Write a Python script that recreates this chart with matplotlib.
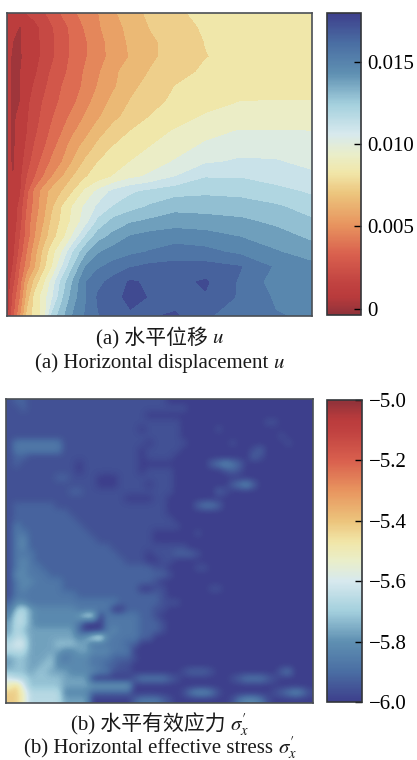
import matplotlib

matplotlib.use("Agg")
import matplotlib.pyplot as plt  # noqa: E402
import numpy as np  # noqa: E402
from matplotlib.cm import ScalarMappable  # noqa: E402
from matplotlib.colors import LinearSegmentedColormap, Normalize  # noqa: E402

plt.rcParams["font.family"] = ["Liberation Serif", "Noto Sans CJK SC"]
plt.rcParams["mathtext.fontset"] = "stix"
plt.rcParams["axes.unicode_minus"] = True

W, H = 417, 760

# colours, low end (blue) to high end (red)
cmap_stops = [
    (0.00, "#3d3f8c"), (0.10, "#4a6ea3"), (0.20, "#5f90b2"), (0.30, "#a3cfdd"),
    (0.40, "#d7e9ee"), (0.47, "#eaeec8"), (0.53, "#f1e6a8"), (0.60, "#ecc47c"),
    (0.70, "#e8955f"), (0.80, "#d9604e"), (0.90, "#c04140"), (0.94, "#b93b3c"),
    (1.00, "#8f323a"),
]

# (a) horizontal displacement, x 1e-3, read along the rows at these positions
disp_x = [7, 13, 20, 27, 35, 43, 52, 62, 73, 85, 98, 113, 130, 150, 175, 205, 240, 275, 312]
disp_y = [13, 27, 42, 57, 72, 87, 102, 117, 132, 147, 162, 177, 192, 207, 222, 237, 252, 267, 282, 297, 316]
disp_rows = [
    [1.0, 1.2, 1.2, 1.5, 1.8, 2.2, 2.8, 3.4, 4.0, 4.6, 5.1, 5.9, 6.5, 7.2, 7.8, 8.0, 8.1, 8.1, 8.1],
    [.8, .6, .5, .7, 1.2, 1.7, 2.3, 2.9, 3.6, 4.3, 5.0, 5.7, 6.3, 7.0, 7.5, 8.0, 8.1, 8.1, 8.1],
    [.7, .5, .5, .7, 1.2, 1.6, 2.2, 2.8, 3.5, 4.1, 4.8, 5.5, 6.2, 6.8, 7.3, 7.9, 8.1, 8.1, 8.1],
    [.7, .4, .45, .7, 1.2, 1.6, 2.2, 2.9, 3.5, 4.1, 4.8, 5.4, 6.1, 6.8, 7.3, 7.85, 8.1, 8.1, 8.1],
    [.7, .4, .5, .8, 1.3, 1.9, 2.5, 3.0, 3.7, 4.3, 5.0, 5.8, 6.5, 7.0, 7.6, 8.0, 8.15, 8.2, 8.2],
    [.7, .4, .52, 1.0, 1.6, 2.1, 2.8, 3.3, 3.8, 4.4, 5.2, 5.9, 6.7, 7.3, 7.9, 8.15, 8.3, 8.35, 8.4],
    [.7, .4, .52, 1.2, 1.9, 2.4, 2.9, 3.5, 4.0, 4.8, 5.5, 6.3, 7.0, 7.6, 8.05, 8.4, 8.8, 8.85, 8.85],
    [.7, .4, .7, 1.35, 2.0, 2.6, 3.2, 3.8, 4.5, 5.2, 5.9, 6.7, 7.3, 7.9, 8.4, 8.9, 9.1, 9.1, 9.0],
    [.7, .4, .8, 1.44, 2.2, 2.8, 3.5, 4.2, 5.0, 5.7, 6.6, 7.3, 7.9, 8.4, 8.9, 9.4, 9.8, 9.8, 9.75],
    [.7, .4, .9, 1.65, 2.5, 3.1, 3.9, 4.7, 5.6, 6.4, 7.2, 7.9, 8.3, 8.8, 9.3, 9.9, 10.3, 10.3, 10.0],
    [.7, .4, 1.0, 2.0, 2.8, 3.6, 4.4, 5.12, 6.1, 7.1, 7.88, 8.3, 8.8, 9.3, 9.8, 10.5, 10.75, 10.7, 10.4],
    [.7, .5, 1.2, 2.36, 3.28, 4.2, 5.12, 6.0, 6.96, 7.8, 8.3, 8.85, 9.5, 9.9, 10.64, 11.5, 11.5, 11.1, 10.8],
    [.7, .6, 1.3, 3.0, 4.5, 5.5, 6.4, 7.0, 7.9, 9.0, 10.0, 10.9, 11.4, 11.8, 12.1, 12.3, 12.2, 11.9, 11.4],
    [.7, .7, 1.8, 3.3, 4.6, 5.6, 6.8, 7.9, 8.9, 9.9, 10.8, 11.6, 12.1, 12.6, 13.1, 13.0, 12.9, 12.6, 12.1],
    [.7, .8, 2.0, 3.6, 4.9, 5.9, 7.2, 8.1, 9.1, 10.2, 11.8, 12.8, 13.3, 13.6, 13.85, 13.8, 13.6, 13.2, 12.6],
    [.7, 1.0, 2.36, 3.7, 5.12, 6.4, 7.5, 8.5, 9.9, 11.6, 13.0, 13.7, 14.4, 14.7, 14.9, 14.7, 14.3, 13.8, 13.2],
    [.7, 1.2, 2.7, 4.2, 5.7, 7.1, 8.4, 9.72, 11.56, 13.1, 14.2, 14.7, 15.0, 15.3, 15.6, 15.5, 15.0, 14.4, 13.8],
    [.8, 1.5, 3.3, 4.6, 6.0, 7.5, 8.8, 10.64, 12.5, 14.3, 15.1, 15.6, 16.1, 16.4, 16.5, 16.5, 16.2, 15.1, 14.6],
    [.8, 2.0, 3.7, 5.8, 7.3, 8.5, 10.1, 11.9, 13.5, 15.2, 15.9, 16.5, 17.2, 16.9, 16.8, 17.2, 16.0, 14.8, 14.9],
    [.8, 2.6, 4.2, 6.4, 8.2, 9.2, 10.5, 12.3, 13.9, 15.1, 16.3, 16.7, 17.4, 17.0, 16.7, 17.0, 16.0, 15.1, 15.1],
    [.9, 3.0, 5.0, 7.2, 8.3, 9.0, 11.8, 13.1, 14.4, 15.3, 16.1, 16.6, 16.9, 17.0, 17.2, 16.3, 15.6, 15.3, 15.1],
]
disp_ticks = [0, 0.005, 0.010, 0.015]
disp_ticklabels = ["0", "0.005", "0.010", "0.015"]

# (b) horizontal effective stress, one character per cell, see stress_levels
stress_levels = {
    "0": -6.0, "1": -5.96, "2": -5.92, "3": -5.87, "4": -5.82, "5": -5.77,
    "6": -5.72, "7": -5.66, "8": -5.6, "9": -5.52, "a": -5.42,
}
stress_rows = [
    "12211111111111111111111",
    "11211111111111111111111111",
    "1111111111111111111100",
    "1111111111111111111111111000000000000110",
    "11111111111111111110111110000010000000",
    "1111111111111111111111111000000000000001",
    "13333333111111111111011111000000100000001",
    "13333333111111111110111110000000000120",
    "12211111111111111110111100000000000210",
    "1211111111011111111000000000023432",
    "1111111111011111111011110000000121",
    "11111112211110001111111100000000",
    "1111111111111000111101110000000023420",
    "111111111221111111111111000000210",
    "11111111111111111000011",
    "12222221111111111111111000023320",
    "12222222211111111111111",
    "122222222211111111111111",
    "1322222222211111111111111",
    "13322222222211111111100000010",
    "1342222222222111111110",
    "134222222222222111111111110",
    "13332222222222221111011122210",
    "134322222222222221110011",
    "134332222222222222222110000110",
    "144333222222222222222221",
    "1344333322222222222221",
    "13433333222222222220011000000110",
    "13333333332222222222221",
    "2443333333333333222222111",
    "36754444443333300222211",
    "4775444444577033333221",
    "57754444443000333332221",
    "57655555552000343332221",
    "677555555545784333322",
    "78855556665533333220",
    "777555554455444333",
    "5665556434443332221",
    "566556644444332211",
    "666566555444433111" "0000000" "122210" "00000000" "23",
    "877666665555000000" "2333321" "0000000" "1233321",
    "9a8666665555555555" "0000000" "0000000" "000000" "000000",
    "aa9777774444222222" "0000000" "134431" "0000000" "123431",
    "aa9777775555000000" "233321" "00000000" "134431",
]
stress_ticks = [-6.0, -5.8, -5.6, -5.4, -5.2, -5.0]
stress_ticklabels = ["\u22126.0", "\u22125.8", "\u22125.6", "\u22125.4", "\u22125.2", "\u22125.0"]

captions = [
    ("(a) 水平位移", "$u$", 343),
    ("(a) Horizontal displacement", "$u$", 368.5),
    ("(b) 水平有效应力", r"$\sigma_x^{\prime}$", 730),
    ("(b) Horizontal effective stress", r"$\sigma_x^{\prime}$", 753.5),
]


def px_axes(fig, left, top, right, bottom):
    return fig.add_axes([left / W, 1 - bottom / H, (right - left) / W, (bottom - top) / H])


def style_frame(ax, color="#4a4f55", lw=1.2):
    for spine in ax.spines.values():
        spine.set_color(color)
        spine.set_linewidth(lw)


def add_bar(fig, box, cmap, norm, ticks, labels):
    cax = px_axes(fig, *box)
    cb = fig.colorbar(ScalarMappable(norm=norm, cmap=cmap), cax=cax)
    cb.set_ticks(ticks, labels=labels)
    cax.tick_params(axis="y", direction="in", length=5, width=1, labelsize=15, pad=5)
    cb.outline.set_edgecolor("#33363a")
    cb.outline.set_linewidth(1.2)
    return cax


fig = plt.figure(figsize=(W / 100, H / 100), dpi=100)
cmap = LinearSegmentedColormap.from_list("washed_rdylbu", cmap_stops, N=256)

# panel (a): filled contours, blue at the high end
ax_a = px_axes(fig, 7.3, 12.7, 312.5, 316)
norm_a = Normalize(-0.0004, 0.018)
disp = np.array(disp_rows) * 1e-3
levels = np.linspace(-0.0004, 0.018, 21)
ax_a.contourf(disp_x, disp_y, disp, levels=levels, cmap=cmap.reversed(), norm=norm_a)
ax_a.set_xlim(disp_x[0], disp_x[-1])
ax_a.set_ylim(disp_y[-1], disp_y[0])
ax_a.set_xticks([])
ax_a.set_yticks([])
style_frame(ax_a)
add_bar(fig, (326.7, 12.7, 360.7, 315.3), cmap.reversed(), norm_a, disp_ticks, disp_ticklabels)

# panel (b): smoothed cell map
ax_b = px_axes(fig, 6, 398.7, 312.7, 702.7)
norm_b = Normalize(-6.0, -5.0)
stress = np.array([[stress_levels[c] for c in row.ljust(44, "0")[:44]] for row in stress_rows])
ax_b.imshow(stress, cmap=cmap, norm=norm_b, aspect="auto", interpolation="bicubic")
ax_b.set_xticks([])
ax_b.set_yticks([])
style_frame(ax_b)
add_bar(fig, (327.3, 400, 362, 702), cmap, norm_b, stress_ticks, stress_ticklabels)

# captions: the roman part and the italic symbol are set next to each other
renderer = fig.canvas.get_renderer()
for label, symbol, y in captions:
    t1 = fig.text(0, 1 - y / H, label, fontsize=15, va="baseline", color="#1a1a1a")
    t2 = fig.text(0, 1 - y / H, symbol, fontsize=15, va="baseline", color="#1a1a1a")
    w1 = t1.get_window_extent(renderer).width
    w2 = t2.get_window_extent(renderer).width
    x0 = 160 - (w1 + w2 + 5) / 2
    t1.set_x(x0 / W)
    t2.set_x((x0 + w1 + 5) / W)

fig.savefig("out.png", dpi=100)
